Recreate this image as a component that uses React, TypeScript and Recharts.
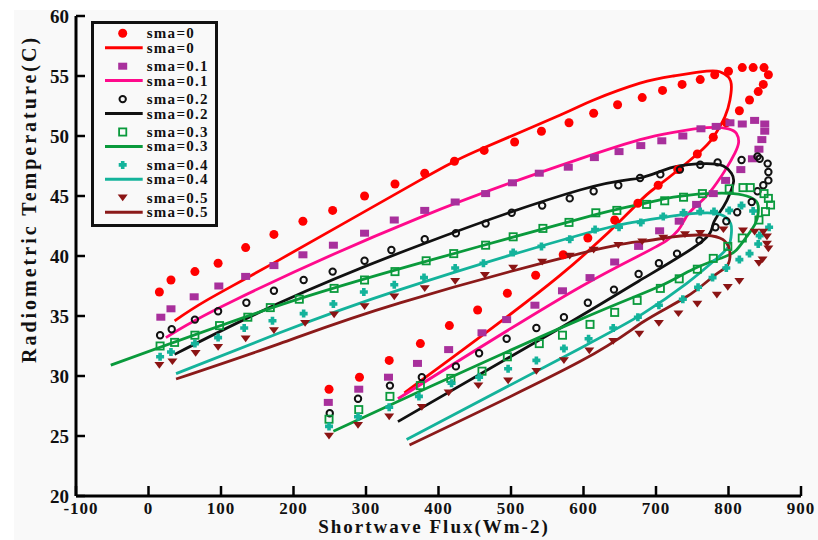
import React from 'react';
import { ComposedChart, Line, Scatter, XAxis, YAxis, Legend } from 'recharts';

const FONT = '"Liberation Serif", "Times New Roman", serif';

const X_TICKS = [-100, 0, 100, 200, 300, 400, 500, 600, 700, 800, 900];
const Y_TICKS = [20, 25, 30, 35, 40, 45, 50, 55, 60];
const SMA_LABELS = ['sma=0', 'sma=0.1', 'sma=0.2', 'sma=0.3', 'sma=0.4', 'sma=0.5'];

// observed values (markers)
const sma0Obs = [
    [15, 37.0], [31, 38.0], [64, 38.7], [96, 39.4], [134, 40.7], [173, 41.8], [213, 42.9], [254, 43.8],
    [298, 45.0], [340, 46.0], [381, 46.9], [422, 47.9], [463, 48.8], [505, 49.5], [542, 50.4], [580, 51.1],
    [614, 51.9], [647, 52.6], [681, 53.2], [709, 53.8], [736, 54.3], [761, 54.7], [781, 55.1], [800, 55.4],
    [819, 55.7], [834, 55.7], [849, 55.7], [855, 55.1], [848, 54.3], [841, 53.7], [829, 53.0], [815, 52.1],
    [797, 51.1], [779, 49.9], [757, 48.5], [730, 47.2], [703, 45.9], [675, 44.4], [643, 43.0], [606, 41.5],
    [572, 40.1], [534, 38.4], [495, 36.9], [454, 35.5], [415, 34.2], [375, 32.7], [332, 31.3], [291, 29.9],
    [249, 28.9],
];
const sma01Obs = [
    [17, 34.9], [31, 35.6], [63, 36.6], [97, 37.5], [134, 38.3], [173, 39.2], [213, 40.1], [255, 40.9],
    [298, 41.9], [339, 43.0], [381, 43.8], [423, 44.5], [465, 45.2], [502, 46.1], [539, 46.9], [579, 47.4],
    [615, 48.2], [649, 48.7], [679, 49.2], [708, 49.6], [737, 50.0], [762, 50.6], [783, 50.8], [802, 51.1],
    [819, 51.0], [836, 51.3], [850, 51.0], [850, 50.4], [846, 49.7], [842, 48.9], [833, 48.1], [817, 47.2],
    [796, 46.3], [779, 45.2], [756, 44.3], [732, 42.9], [705, 42.1], [676, 40.8], [643, 39.5], [609, 38.2],
    [571, 37.1], [533, 35.9], [494, 34.7], [460, 33.6], [414, 32.2], [371, 31.05], [331, 29.9], [290, 28.9],
    [248, 27.8],
];
const sma02Obs = [
    [16, 33.4], [32, 33.9], [64, 34.7], [96, 35.4], [135, 36.1], [173, 37.1], [214, 38.0], [254, 38.7],
    [298, 39.6], [335, 40.5], [381, 41.4], [424, 41.9], [465, 42.7], [501, 43.6], [543, 44.2], [581, 44.8],
    [614, 45.4], [648, 45.9], [678, 46.5], [706, 46.8], [733, 47.2], [761, 47.6], [785, 47.8], [818, 48.0],
    [840, 48.3], [843, 48.1], [854, 47.7], [855, 47.0], [855, 46.3], [848, 45.9], [840, 45.4], [832, 44.5],
    [812, 43.65], [797, 42.9], [782, 42.4], [760, 41.3], [729, 40.2], [704, 39.4], [676, 38.5], [642, 37.2],
    [606, 36.1], [573, 34.9], [535, 34.0], [494, 33.1], [456, 31.9], [424, 30.8], [377, 29.9], [333, 29.2],
    [289, 28.1], [250, 26.9],
];
const sma03Obs = [
    [16, 32.5], [36, 32.8], [64, 33.4], [98, 34.2], [137, 34.9], [168, 35.7], [208, 36.4], [256, 37.3],
    [298, 38.0], [340, 38.7], [383, 39.6], [421, 40.2], [465, 40.9], [503, 41.6], [544, 42.3], [580, 42.8],
    [617, 43.6], [646, 43.8], [687, 44.3], [712, 44.6], [738, 44.9], [764, 45.2], [801, 45.6], [820, 45.7],
    [830, 45.7], [849, 45.2], [855, 44.8], [858, 44.25], [851, 43.7], [842, 43.0], [819, 41.5], [799, 40.8],
    [779, 39.8], [757, 38.9], [732, 38.1], [706, 37.3], [674, 36.3], [643, 35.3], [609, 34.3], [571, 33.4],
    [539, 32.7], [495, 31.6], [460, 30.4], [417, 29.8], [375, 29.2], [333, 28.3], [290, 27.2], [249, 26.4],
];
const sma04Obs = [
    [16, 31.6], [31, 32.0], [64, 32.7], [96, 33.2], [132, 34.0], [171, 34.6], [214, 35.2], [255, 36.0],
    [297, 37.0], [339, 37.6], [380, 38.2], [423, 39.0], [462, 39.4], [503, 40.3], [542, 40.8], [581, 41.4],
    [616, 42.2], [649, 42.4], [679, 42.8], [710, 43.3], [738, 43.6], [761, 43.7], [780, 43.7], [801, 43.8],
    [818, 44.2], [834, 43.75], [856, 42.4], [843, 41.7], [841, 41.0], [829, 40.2], [815, 39.7], [797, 39.0],
    [778, 38.2], [758, 37.4], [737, 36.4], [704, 35.9], [675, 34.9], [641, 34.0], [607, 33.1], [573, 32.3],
    [535, 31.3], [496, 30.6], [456, 29.9], [418, 29.4], [373, 28.3], [332, 27.4], [289, 26.6], [249, 25.8],
];
const sma05Obs = [
    [15, 30.9], [33, 31.2], [65, 31.9], [96, 32.4], [134, 33.1], [173, 33.8], [216, 34.4], [256, 35.1],
    [298, 35.8], [339, 36.6], [381, 37.3], [423, 37.9], [464, 38.4], [503, 39.0], [543, 39.5], [581, 40.0],
    [614, 40.5], [648, 40.9], [681, 41.2], [710, 41.5], [740, 41.8], [761, 41.9], [793, 42.2], [820, 42.1],
    [836, 42.0], [848, 42.0], [853, 41.6], [853, 41.0], [855, 40.6], [847, 39.7], [842, 39.4], [815, 37.9],
    [799, 37.4], [784, 36.75], [757, 36.0], [731, 35.2], [704, 34.4], [677, 33.5], [641, 32.9], [608, 32.1],
    [573, 31.3], [535, 30.4], [496, 29.6], [455, 29.2], [414, 28.6], [377, 27.4], [332, 26.6], [289, 25.9],
    [249, 25.0],
];

// simulated loops (lines), lower branch first then back along the upper branch
const sma0Sim = [
    [353, 28.6], [568, 38.4], [675, 44.4], [704, 45.9], [757, 48.5], [779, 49.9], [795, 51.6], [802, 53.0],
    [804, 54.1], [800, 54.9], [788, 55.35], [770, 55.4], [724, 55.0], [678, 54.4], [614, 53.0], [568, 51.75],
    [462, 49.0], [374, 46.3], [181, 39.7], [80, 36.3], [36, 34.6],
];
const sma01Sim = [
    [344, 28.1], [595, 37.4], [715, 41.3], [742, 43.3], [765, 44.7], [784, 46.1], [797, 47.3], [809, 48.6],
    [814, 49.5], [811, 50.2], [800, 50.6], [770, 50.7], [724, 50.3], [678, 49.7], [595, 48.1], [374, 43.2],
    [118, 36.3], [24, 33.2],
];
const sma02Sim = [
    [344, 26.2], [568, 34.0], [676, 37.9], [761, 41.1], [779, 42.7], [793, 44.1], [802, 45.2], [807, 46.2],
    [804, 46.9], [793, 47.5], [770, 47.7], [724, 47.4], [678, 46.5], [595, 45.5], [374, 40.9], [181, 36.1],
    [36, 31.8],
];
const sma03Sim = [
    [255, 25.4], [388, 29.1], [595, 34.7], [706, 37.5], [751, 38.9], [793, 39.9], [811, 40.5], [825, 41.6],
    [837, 42.7], [841, 43.6], [840, 44.4], [830, 44.9], [807, 45.2], [770, 45.2], [724, 44.9], [678, 44.3],
    [595, 43.1], [374, 39.4], [181, 35.9], [-52, 30.9],
];
const sma04Sim = [
    [356, 24.7], [595, 32.3], [682, 35.2], [742, 37.7], [782, 39.7], [800, 40.8], [804, 41.9], [803, 42.7],
    [793, 43.35], [770, 43.6], [724, 43.35], [678, 42.9], [595, 41.75], [347, 37.2], [181, 33.6], [38, 30.2],
];
const sma05Sim = [
    [360, 24.25], [595, 31.2], [682, 34.5], [742, 36.6], [779, 38.3], [797, 39.1], [802, 39.9], [800, 40.8],
    [788, 41.5], [761, 41.75], [724, 41.6], [678, 41.2], [595, 40.2], [347, 36.1], [181, 32.7], [38, 29.75],
];

const MARKER_COLORS = ['#ff0000', '#a8309c', '#111111', '#0a9a3c', '#14b39b', '#8b1414'];
const LINE_COLORS = ['#ff0000', '#ff0a8c', '#111111', '#0a9a3c', '#14b39b', '#8b1a1a'];

const toPts = (arr: number[][]) => arr.map(([x, y]) => ({ x, y }));
const OBS = [sma0Obs, sma01Obs, sma02Obs, sma03Obs, sma04Obs, sma05Obs].map(toPts);
const SIM = [sma0Sim, sma01Sim, sma02Sim, sma03Sim, sma04Sim, sma05Sim].map(toPts);

const Marker = ({ kind, cx, cy }: { kind: number; cx: number; cy: number }) => {
    const c = MARKER_COLORS[kind];
    switch (kind) {
        case 0:
            return <circle cx={cx} cy={cy} r={4.5} fill={c} />;
        case 1:
            return <rect x={cx - 4.5} y={cy - 3.5} width={9} height={7} fill={c} />;
        case 2:
            return <circle cx={cx} cy={cy} r={3.2} fill="none" stroke={c} strokeWidth={2} />;
        case 3:
            return <rect x={cx - 3.6} y={cy - 3.6} width={7.2} height={7.2} fill="none" stroke={c} strokeWidth={1.8} />;
        case 4: {
            const a = 4, w = 1.8;
            return (
                <path
                    d={`M${cx - w},${cy - a}H${cx + w}V${cy - w}H${cx + a}V${cy + w}H${cx + w}V${cy + a}H${cx - w}V${cy + w}H${cx - a}V${cy - w}H${cx - w}Z`}
                    fill={c}
                />
            );
        }
        default:
            return <path d={`M${cx - 5},${cy - 3.2}L${cx + 5},${cy - 3.2}L${cx},${cy + 3.5}Z`} fill={c} />;
    }
};

const XTick = ({ x, y, payload }: any) => (
    <g>
        <line x1={x} x2={x} y1={y} y2={y - 10} stroke="#000" strokeWidth={2.5} />
        <text x={x + (payload.value < 0 ? 5 : 0)} y={y + 18} textAnchor="middle" fontFamily={FONT} fontWeight="bold"
            fontSize={17} letterSpacing={1} fill="#111">
            {payload.value}
        </text>
    </g>
);

const YTick = ({ x, y, payload }: any) => (
    <g>
        <line x1={x} x2={x + 9} y1={y} y2={y} stroke="#000" strokeWidth={2.5} />
        <text x={x - 7} y={y + 7} textAnchor="end" fontFamily={FONT} fontWeight="bold" fontSize={19} fill="#111">
            {payload.value}
        </text>
    </g>
);

const XTitle = () => (
    <text x={434} y={533} textAnchor="middle" fontFamily={FONT} fontWeight="bold" fontSize={19}
        letterSpacing={2} fill="#111">
        Shortwave Flux(Wm-2)
    </text>
);

const YTitle = () => (
    <text x={29} y={199} transform="rotate(-90, 29, 199)" textAnchor="middle" dominantBaseline="central"
        fontFamily={FONT} fontWeight="bold" fontSize={20} letterSpacing={3} fill="#111">
        Radiometric Temperature(C)
    </text>
);

const LegendBox = () => (
    <svg width={128} height={207}>
        <rect x={1.5} y={1.5} width={124} height={203} fill="none" stroke="#111" strokeWidth={3} />
        {SMA_LABELS.map((label, i) => {
            const my = 12.3 + i * 32.9;
            const ly = 26.7 + i * 32.9;
            return (
                <g key={label}>
                    <Marker kind={i} cx={31.7} cy={my} />
                    <text x={55.7} y={my + 5} fontFamily={FONT} fontWeight="bold" fontSize={15} letterSpacing={1.3} fill="#111">{label}</text>
                    <line x1={14} x2={51.7} y1={ly} y2={ly} stroke={LINE_COLORS[i]} strokeWidth={3} />
                    <text x={55.7} y={ly + 5} fontFamily={FONT} fontWeight="bold" fontSize={15} letterSpacing={1.3} fill="#111">{label}</text>
                </g>
            );
        })}
    </svg>
);

const App: React.FC = () => (
    <div style={{ position: 'absolute', left: 0, top: 0, width: 818, height: 540, background: '#fff' }}>
        <div style={{ position: 'absolute', left: 14, top: 10, width: 804, height: 530, background: '#f9f9f9' }} />
        <ComposedChart width={818} height={540} margin={{ top: 16, right: 17, bottom: 0, left: 0 }}
            style={{ position: 'absolute', left: 0, top: 0 }}>
            <XAxis type="number" dataKey="x" domain={[-100, 900]} ticks={X_TICKS} allowDataOverflow height={44}
                axisLine={{ stroke: '#000', strokeWidth: 3 }} tickLine={false} tickSize={0} tickMargin={0}
                tick={<XTick />} label={<XTitle />} interval={0} />
            <YAxis type="number" dataKey="y" domain={[20, 60]} ticks={Y_TICKS} allowDataOverflow width={76}
                axisLine={{ stroke: '#000', strokeWidth: 3 }} tickLine={false} tickSize={0} tickMargin={0}
                tick={<YTick />} label={<YTitle />} interval={0} />
            {SIM.map((pts, i) => (
                <Line key={`sim-${i}`} data={pts} dataKey="y" type="natural" stroke={LINE_COLORS[i]} strokeWidth={2.8}
                    dot={false} activeDot={false} isAnimationActive={false} legendType="none" />
            ))}
            {OBS.map((pts, i) => (
                <Scatter key={`obs-${i}`} data={pts} dataKey="y" fill={MARKER_COLORS[i]} isAnimationActive={false}
                    shape={(p: any) => <Marker kind={i} cx={p.cx} cy={p.cy} />} legendType="none" />
            ))}
            <Legend layout="vertical" align="center" verticalAlign="middle" content={<LegendBox />}
                wrapperStyle={{ left: 91, top: 21, width: 128, height: 207 }} />
        </ComposedChart>
    </div>
);

export default App;
